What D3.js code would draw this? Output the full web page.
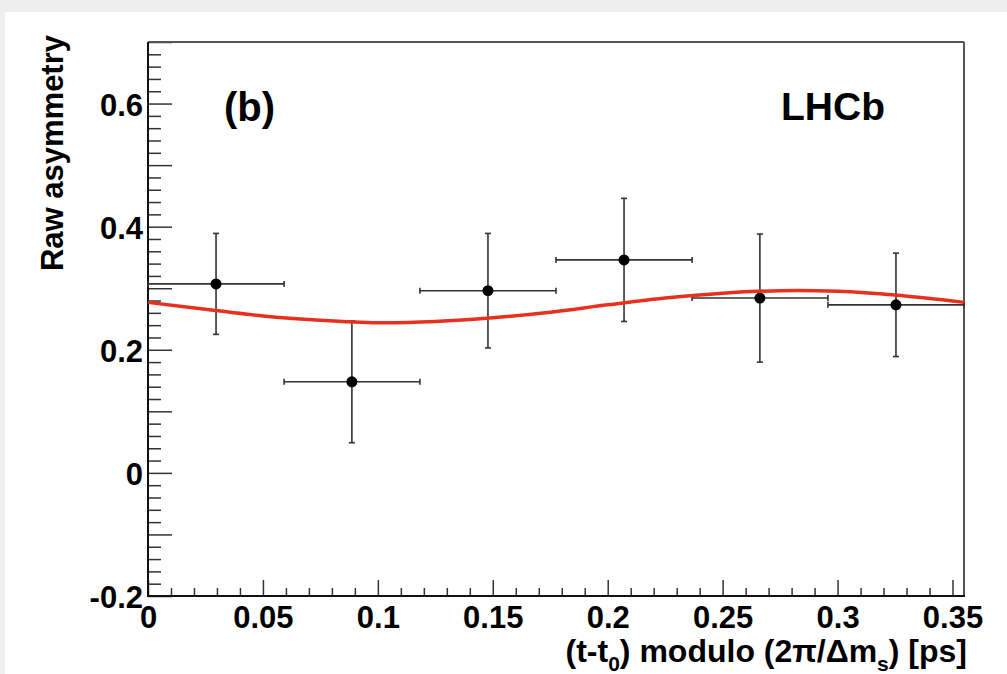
<!DOCTYPE html>
<html>
<head>
<meta charset="utf-8">
<script src="https://cdn.jsdelivr.net/npm/d3@7"></script>
<style>
  body { margin: 0; background: #eeeeee; }
  svg { display: block; }
  text { font-family: "Liberation Sans", Arial, Helvetica, sans-serif; font-weight: bold; fill: #000; }
</style>
</head>
<body>
<svg id="chart" width="1007" height="674"></svg>
<script>
// bins of (t - t0) modulo 2pi/dms, six bins over one period
const binEdges = [0, 0.0592, 0.1183, 0.1775, 0.2367, 0.2958, 0.355];
const binCenters = [0.0296, 0.0887, 0.1479, 0.2071, 0.2662, 0.3254];
const asym = [0.307, 0.148, 0.296, 0.346, 0.284, 0.273];
const asymErr = [0.082, 0.099, 0.093, 0.100, 0.104, 0.084];

// fit curve
const fitT = [0, 0.025, 0.05, 0.075, 0.1, 0.125, 0.15, 0.175, 0.2, 0.225, 0.25, 0.275, 0.3, 0.325, 0.355];
const fitA = [0.277, 0.266, 0.255, 0.248, 0.244, 0.246, 0.252, 0.261, 0.273, 0.284, 0.292, 0.296, 0.295, 0.289, 0.277];

const xLabels = [0, 0.05, 0.1, 0.15, 0.2, 0.25, 0.3, 0.35];
const yLabels = [-0.2, 0, 0.2, 0.4, 0.6];

const svg = d3.select("#chart");
const padL = 148, padR = 964, padT = 42, padB = 596;
const fs = 31;

// white pad
svg.append("rect").attr("x", 5).attr("y", 12).attr("width", 1002).attr("height", 662).attr("fill", "#fff");

const x = d3.scaleLinear().domain([0, 0.355]).range([padL, padR]);
const y = d3.scaleLinear().domain([-0.2, 0.7]).range([padB, padT]);

const fmt = d => String(+d.toFixed(2));

// minor ticks on x (every 0.01)
const xMinor = d3.range(0, 36).map(i => i / 100).filter(v => Math.round(v * 100) % 5 !== 0);
svg.append("g")
  .attr("transform", `translate(0,${padB})`)
  .call(d3.axisBottom(x).tickValues(xMinor).tickSize(-8).tickFormat(""))
  .call(g => g.select(".domain").remove());

svg.append("g")
  .attr("class", "xaxis")
  .attr("transform", `translate(0,${padB})`)
  .call(d3.axisBottom(x).tickValues(xLabels).tickSize(-16).tickPadding(10).tickFormat(fmt))
  .call(g => g.select(".domain").remove());

// minor ticks on y (every 0.02)
const yMinor = d3.range(-10, 36).map(i => i / 50).filter(v => Math.round(v * 50) % 5 !== 0);
svg.append("g")
  .attr("transform", `translate(${padL},0)`)
  .call(d3.axisLeft(y).tickValues(yMinor).tickSize(-13).tickFormat(""))
  .call(g => g.select(".domain").remove());

const yMajor = d3.range(-2, 8).map(i => i / 10);
svg.append("g")
  .attr("class", "yaxis")
  .attr("transform", `translate(${padL},0)`)
  .call(d3.axisLeft(y).tickValues(yMajor).tickSize(-24).tickPadding(5)
    .tickFormat(d => yLabels.some(v => Math.abs(v - d) < 1e-6) ? fmt(d) : ""))
  .call(g => g.select(".domain").remove());

svg.selectAll(".tick line").attr("stroke", "#333").attr("stroke-width", 1.5);
svg.selectAll(".xaxis text, .yaxis text").attr("font-size", fs).attr("font-family", null);
svg.selectAll(".yaxis text").attr("dy", "0.38em");

// frame
svg.append("line").attr("x1", padL).attr("x2", padR).attr("y1", padT).attr("y2", padT).attr("stroke", "#555").attr("stroke-width", 2);
svg.append("line").attr("x1", padR).attr("x2", padR).attr("y1", padT).attr("y2", padB).attr("stroke", "#555").attr("stroke-width", 2);
svg.append("line").attr("x1", padL).attr("x2", padL).attr("y1", padT).attr("y2", padB + 1).attr("stroke", "#111").attr("stroke-width", 2);
svg.append("line").attr("x1", padL - 1).attr("x2", padR + 1).attr("y1", padB).attr("y2", padB).attr("stroke", "#111").attr("stroke-width", 2);

// data points with error bars
const pts = binCenters.map((c, i) => ({ t: c, lo: binEdges[i], hi: binEdges[i + 1], a: asym[i], e: asymErr[i] }));
const cap = 3;
const eb = svg.append("g").attr("stroke", "#333").attr("stroke-width", 1.6);
pts.forEach(p => {
  eb.append("line").attr("x1", x(p.lo)).attr("x2", x(p.hi)).attr("y1", y(p.a)).attr("y2", y(p.a));
  eb.append("line").attr("x1", x(p.t)).attr("x2", x(p.t)).attr("y1", y(p.a - p.e)).attr("y2", y(p.a + p.e));
  [p.lo, p.hi].forEach(v => {
    eb.append("line").attr("x1", x(v)).attr("x2", x(v)).attr("y1", y(p.a) - cap).attr("y2", y(p.a) + cap);
  });
  [p.a - p.e, p.a + p.e].forEach(v => {
    eb.append("line").attr("x1", x(p.t) - cap).attr("x2", x(p.t) + cap).attr("y1", y(v)).attr("y2", y(v));
  });
});

svg.append("g").selectAll("circle")
  .data(pts)
  .enter()
  .append("circle")
  .attr("cx", d => x(d.t))
  .attr("cy", d => y(d.a))
  .attr("r", 5.5)
  .attr("fill", "#000");

// fit curve
const line = d3.line()
  .x((d, i) => x(fitT[i]))
  .y(d => y(d))
  .curve(d3.curveCatmullRom);
svg.append("path")
  .datum(fitA)
  .attr("d", line)
  .attr("fill", "none")
  .attr("stroke", "#e8301f")
  .attr("stroke-width", 3.5);

// labels
svg.append("text").attr("x", 224).attr("y", 121).attr("font-size", 40).text("(b)");
svg.append("text").attr("x", 885).attr("y", 120).attr("font-size", 39).attr("text-anchor", "end").text("LHCb");

svg.append("text")
  .attr("transform", "translate(63,35) rotate(-90)")
  .attr("text-anchor", "end")
  .attr("font-size", fs)
  .text("Raw asymmetry");

const xt = svg.append("text")
  .attr("x", 967).attr("y", 662)
  .attr("text-anchor", "end")
  .attr("font-size", fs + 1);
xt.append("tspan").text("(t-t");
xt.append("tspan").attr("font-size", 21).attr("dy", 9).text("0");
xt.append("tspan").attr("dy", -9).text(") modulo (2\u03c0/\u0394m");
xt.append("tspan").attr("font-size", 21).attr("dy", 9).text("s");
xt.append("tspan").attr("dy", -9).text(") [ps]");
</script>
</body>
</html>
